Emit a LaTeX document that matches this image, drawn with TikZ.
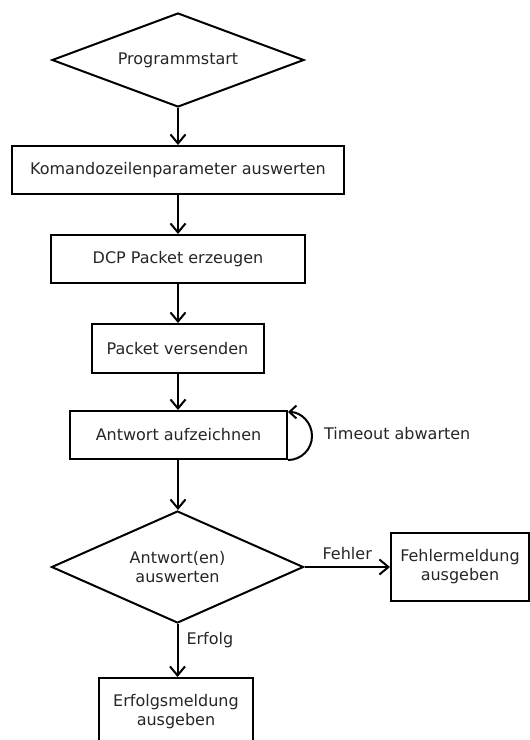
\documentclass[tikz,border=0pt]{standalone}
\usepackage{fontspec}
\setmainfont{DejaVu Sans}
\usetikzlibrary{shapes.geometric,arrows.meta}
\begin{document}
\begin{tikzpicture}[x=1pt,y=-1pt,
  every node/.style={font=\fontsize{16}{19}\selectfont, text=black!85},
  stepbox/.style={draw=black, line width=2pt, rectangle, inner sep=0pt, align=center},
  decision/.style={draw=black, line width=2pt, diamond, inner sep=0pt, align=center},
  flow/.style={line width=2pt, -{Straight Barb[length=9pt,width=15pt,line width=2pt]}},
  lbl/.style={inner sep=0pt}]
  \useasboundingbox (0,0) rectangle (530,740);
  \clip (0,0) rectangle (530,740);
  \fill[white] (0,0) rectangle (530,740);

  % main column
  \node[decision, aspect=2.68, minimum width=252pt, minimum height=94pt] (start) at (178,60) {Programmstart};
  \node[stepbox, minimum width=332pt, minimum height=48pt] (args) at (178,170) {Komandozeilenparameter auswerten};
  \node[stepbox, minimum width=254pt, minimum height=48pt] (make) at (178,259) {DCP Packet erzeugen};
  \node[stepbox, minimum width=172pt, minimum height=49pt] (send) at (177.5,348.5) {Packet versenden};
  \node[stepbox, minimum width=217pt, minimum height=48pt] (rec) at (178.5,435) {Antwort aufzeichnen};
  \node[decision, aspect=2.25, minimum width=252pt, minimum height=112pt] (eval) at (177.5,567) {Antwort(en)\\auswerten};
  \node[stepbox, minimum width=138pt, minimum height=68pt] (err) at (460,567) {Fehlermeldung\\ausgeben};
  \node[stepbox, minimum width=154pt, minimum height=68pt] (ok) at (176,712) {Erfolgsmeldung\\ausgeben};

  % connectors
  \draw[flow] (start.south) -- (start.south |- args.north);
  \draw[flow] (args.south -| start.south) -- (start.south |- make.north);
  \draw[flow] (make.south -| start.south) -- (start.south |- send.north);
  \draw[flow] (send.south -| start.south) -- (start.south |- rec.north);
  \draw[flow] (rec.south -| start.south) -- (start.south |- eval.north);
  \draw[flow] (eval.east) -- node[lbl, above=6pt, pos=0.5] (flbl) {Fehler} (err.west);
  \draw[flow] (eval.south) -- node[lbl, right=8pt, pos=0.3] (slbl) {Erfolg} (eval.south |- ok.north);

  % waiting loop on the recording step
  \draw[line width=2pt, -{Straight Barb[length=7pt,width=13pt,line width=2pt]}]
    (rec.south east) arc[start angle=-90, end angle=90, radius=24pt];
  \node[lbl, anchor=west] (wait) at (324,434) {Timeout abwarten};
\end{tikzpicture}
\end{document}
